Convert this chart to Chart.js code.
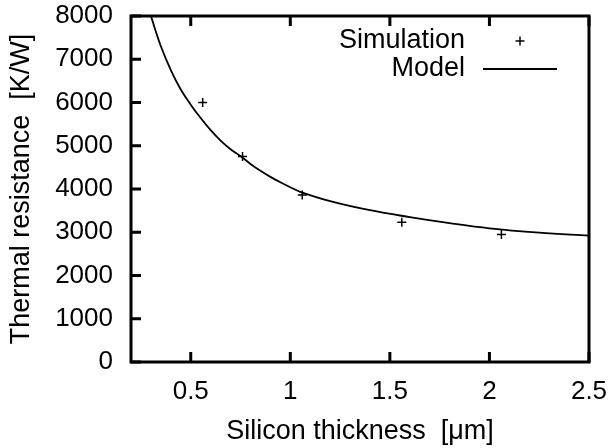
<!DOCTYPE html>
<html>
<head>
<meta charset="utf-8">
<script src="https://cdn.jsdelivr.net/npm/chart.js@4.4.1/dist/chart.umd.min.js"></script>
<style>
  html, body { margin: 0; padding: 0; background: #fff; }
  #wrap { width: 609px; height: 448px; }
</style>
</head>
<body>
<div id="wrap"><canvas id="chart"></canvas></div>
<script>
// simulation points
const simX = [0.56, 0.76, 1.06, 1.56, 2.06];
const simY = [6000, 4750, 3860, 3230, 2950];

// model curve, sampled by eye along the drawn line
const modelX = [0.30, 0.35, 0.40, 0.45, 0.50, 0.55, 0.60, 0.65, 0.70, 0.75, 0.80, 0.85, 0.90, 0.95, 1.00, 1.05, 1.20, 1.40, 1.60, 1.80, 2.00, 2.25, 2.50];
const modelY = [8000, 7300, 6750, 6300, 5950, 5640, 5360, 5120, 4920, 4760, 4580, 4420, 4280, 4155, 4040, 3935, 3720, 3510, 3350, 3210, 3090, 2990, 2920];

const xTicks = [0.5, 1, 1.5, 2, 2.5];
const yTicks = [0, 1000, 2000, 3000, 4000, 5000, 6000, 7000, 8000];

const FONT = '"Liberation Sans", Arial, Helvetica, sans-serif';

// gnuplot style border with inward ticks
const framePlugin = {
  id: 'frame',
  afterDatasetsDraw(chart) {
    const { ctx, chartArea: a, scales: { x, y } } = chart;
    const len = 10;
    ctx.save();
    ctx.strokeStyle = '#000';
    ctx.lineWidth = 3;
    ctx.strokeRect(a.left, a.top, a.right - a.left, a.bottom - a.top);
    ctx.beginPath();
    xTicks.forEach(v => {
      const px = x.getPixelForValue(v);
      ctx.moveTo(px, a.bottom); ctx.lineTo(px, a.bottom - len);
      ctx.moveTo(px, a.top); ctx.lineTo(px, a.top + len);
    });
    yTicks.forEach(v => {
      const py = y.getPixelForValue(v);
      ctx.moveTo(a.left, py); ctx.lineTo(a.left + len, py);
    });
    ctx.stroke();
    ctx.restore();
  }
};

// key in the top right corner: text right aligned, sample on the right
const keyPlugin = {
  id: 'key',
  afterDraw(chart) {
    const { ctx, chartArea: a } = chart;
    const textRight = a.right - 124;
    const sampleL = a.right - 106, sampleR = a.right - 32;
    const mid = (sampleL + sampleR) / 2;
    const rows = [a.top + 25, a.top + 53];
    ctx.save();
    ctx.font = '27px ' + FONT;
    ctx.fillStyle = '#000';
    ctx.textAlign = 'right';
    ctx.textBaseline = 'middle';
    chart.data.datasets.forEach((ds, i) => {
      const yy = rows[i];
      ctx.fillText(ds.label, textRight, yy);
      ctx.strokeStyle = '#000';
      ctx.beginPath();
      if (ds.showLine === false) {
        ctx.lineWidth = 1.5;
        ctx.moveTo(mid - 4.5, yy); ctx.lineTo(mid + 4.5, yy);
        ctx.moveTo(mid, yy - 4.5); ctx.lineTo(mid, yy + 4.5);
      } else {
        ctx.lineWidth = 1.8;
        ctx.moveTo(sampleL, yy); ctx.lineTo(sampleR, yy);
      }
      ctx.stroke();
    });
    ctx.restore();
  }
};

new Chart(document.getElementById('chart'), {
  type: 'scatter',
  data: {
    datasets: [
      {
        label: 'Simulation',
        data: simX.map((v, i) => ({ x: v, y: simY[i] })),
        showLine: false,
        pointStyle: 'cross',
        pointRadius: 4.5,
        pointBorderWidth: 1.5,
        borderColor: '#000',
        backgroundColor: '#000'
      },
      {
        label: 'Model',
        data: modelX.map((v, i) => ({ x: v, y: modelY[i] })),
        showLine: true,
        pointRadius: 0,
        borderColor: '#000',
        borderWidth: 1.8,
        tension: 0.4
      }
    ]
  },
  options: {
    responsive: true,
    maintainAspectRatio: false,
    animation: false,
    layout: { padding: 0 },
    plugins: { legend: { display: false }, tooltip: { enabled: false } },
    scales: {
      x: {
        type: 'linear',
        min: 0.2,
        max: 2.5,
        afterBuildTicks: s => { s.ticks = xTicks.map(v => ({ value: v })); },
        afterFit: s => { s.height = 86; s.paddingLeft = 0; s.paddingRight = 20; },
        grid: { display: false, drawTicks: false },
        border: { display: false },
        ticks: {
          color: '#000', padding: 14, maxRotation: 0,
          font: { family: FONT, size: 26 },
          callback: v => String(v)
        },
        title: {
          display: true,
          text: 'Silicon thickness  [\u03bcm]',
          color: '#000',
          padding: { top: 0, bottom: 0 },
          font: { family: FONT, size: 27 }
        }
      },
      y: {
        min: 0,
        max: 8000,
        afterBuildTicks: s => { s.ticks = yTicks.map(v => ({ value: v })); },
        afterFit: s => { s.width = 131; s.paddingTop = 16; s.paddingBottom = 0; },
        grid: { display: false, drawTicks: false },
        border: { display: false },
        ticks: {
          color: '#000', padding: 18,
          font: { family: FONT, size: 26 },
          callback: v => String(v)
        },
        title: {
          display: true,
          text: 'Thermal resistance  [K/W]',
          color: '#000',
          padding: { top: 5, bottom: 0 },
          font: { family: FONT, size: 27 }
        }
      }
    }
  },
  plugins: [framePlugin, keyPlugin]
});
</script>
</body>
</html>
